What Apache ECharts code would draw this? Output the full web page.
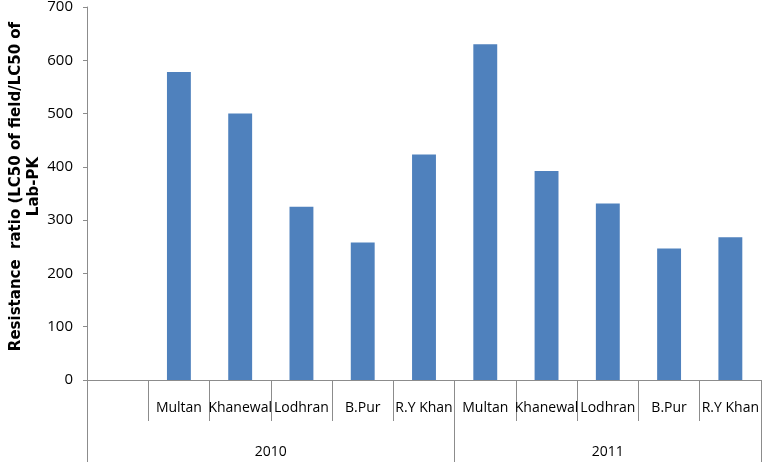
<!DOCTYPE html>
<html>
<head>
<meta charset="utf-8">
<script src="https://cdn.jsdelivr.net/npm/echarts@6/dist/echarts.min.js"></script>
<style>
  html, body { margin: 0; padding: 0; background: #fff; }
  #chart { width: 764px; height: 467px; }
</style>
</head>
<body>
<div id="chart"></div>
<script>
// data
const years = ["2010", "2011"];
const cities = ["Multan", "Khanewal", "Lodhran", "B.Pur", "R.Y Khan"];
const ratio2010 = [578, 500, 325, 258, 423];
const ratio2011 = [630, 392, 331, 247, 268];
const yTicks = [0, 100, 200, 300, 400, 500, 600, 700];

// first slot is the empty category in front of 2010
const categories = [""].concat(cities, cities);
const values = [null].concat(ratio2010, ratio2011);

// group boundaries in half-category units for the year axis
const groupSizes = [1 + cities.length, cities.length];
const nCat = categories.length;
let bounds = [0];
let yearPos = [];
let acc = 0;
for (const size of groupSizes) {
  yearPos.push(acc * 2 + size);
  acc += size;
  bounds.push(acc * 2);
}

const axisGray = "#8c8c8c";
const font = "'Open Sans', 'Liberation Sans', sans-serif";

let chart = echarts.init(document.getElementById("chart"));

let option = {
  animation: false,
  grid: {
    left: 87,
    right: 3,
    top: 7,
    bottom: 87,
    containLabel: false,
    outerBoundsMode: "none",
  },
  xAxis: [
    {
      type: "category",
      data: categories,
      axisLine: { lineStyle: { color: axisGray, width: 1 } },
      axisTick: {
        show: true,
        interval: 0,
        length: 41,
        lineStyle: { color: axisGray },
      },
      axisLabel: {
        interval: 0,
        margin: 21,
        color: "#000",
        fontSize: 14,
        fontFamily: font,
      },
    },
    {
      type: "value",
      position: "bottom",
      min: 0,
      max: nCat * 2,
      interval: 1,
      axisLine: { show: false },
      splitLine: { show: false },
      axisTick: {
        show: true,
        length: 82,
        customValues: bounds,
        lineStyle: { color: axisGray },
      },
      axisLabel: {
        customValues: yearPos,
        margin: 65,
        color: "#000",
        fontSize: 14,
        fontFamily: font,
        formatter: (v) => years[yearPos.indexOf(v)] || "",
      },
    },
  ],
  yAxis: {
    type: "value",
    min: yTicks[0],
    max: yTicks[yTicks.length - 1],
    interval: 100,
    axisLine: { show: true, lineStyle: { color: axisGray } },
    axisTick: { show: true, length: 4, lineStyle: { color: axisGray } },
    splitLine: { show: false },
    axisLabel: {
      margin: 14,
      color: "#000",
      fontSize: 15,
      fontFamily: font,
    },
    name: "Resistance  ratio (LC50 of field/LC50 of\nLab-PK",
    nameLocation: "middle",
    nameRotate: 90,
    nameGap: 44,
    nameMoveOverlap: false,
    nameTextStyle: {
      color: "#000",
      fontSize: 15,
      fontWeight: "bold",
      fontFamily: "'DejaVu Sans', sans-serif",
      lineHeight: 18,
      padding: [0, 0, 0, 14],
    },
  },
  series: [
    {
      type: "bar",
      xAxisIndex: 0,
      data: values,
      barWidth: "39%",
      itemStyle: { color: "#4f81bd" },
    },
  ],
};

chart.setOption(option);
</script>
</body>
</html>
